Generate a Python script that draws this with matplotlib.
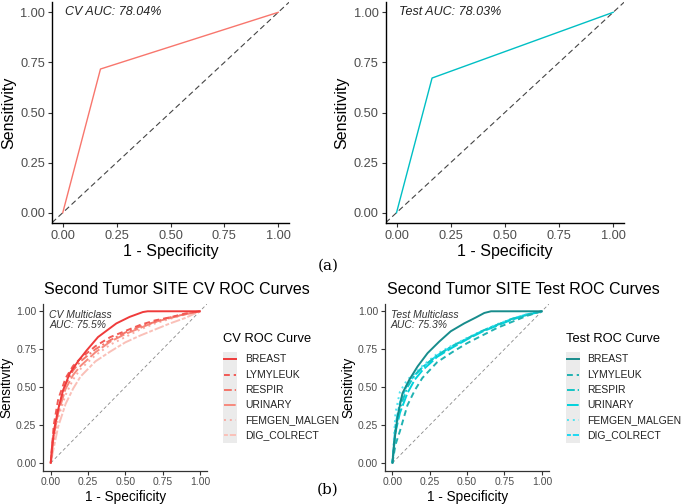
import matplotlib
matplotlib.use("Agg")
import matplotlib.pyplot as plt
from matplotlib.patches import Rectangle

plt.rcParams['font.family'] = ['Liberation Sans', 'DejaVu Sans']

# ---------------- data ----------------
top_cv_fpr = [0.0, 0.175, 1.0]
top_cv_tpr = [0.0, 0.717, 1.0]
top_test_fpr = [0.0, 0.164, 1.0]
top_test_tpr = [0.0, 0.672, 1.0]
cv_auc_text = "CV AUC: 78.04%"
test_auc_text = "Test AUC: 78.03%"

classes = ["BREAST", "LYMYLEUK", "RESPIR", "URINARY", "FEMGEN_MALGEN", "DIG_COLRECT"]

grid_fpr = [0, 0.02, 0.05, 0.1, 0.15, 0.2, 0.3, 0.4, 0.5, 0.6, 0.7, 0.8, 0.9, 1.0]

cv_breast_fpr = [0, 0.01, 0.027, 0.049, 0.083, 0.127, 0.183, 0.239, 0.317, 0.44, 0.529, 0.618, 0.65, 1.0]
cv_breast_tpr = [0, 0.12, 0.24, 0.35, 0.48, 0.59, 0.67, 0.74, 0.83, 0.92, 0.963, 0.995, 1.0, 1.0]
cv_lymyleuk_tpr = [0, 0.25, 0.42, 0.56, 0.64, 0.69, 0.77, 0.83, 0.87, 0.91, 0.94, 0.96, 0.985, 1]
cv_respir_tpr = [0, 0.20, 0.36, 0.52, 0.61, 0.67, 0.75, 0.81, 0.86, 0.90, 0.93, 0.96, 0.98, 1]
cv_urinary_tpr = [0, 0.18, 0.33, 0.49, 0.58, 0.64, 0.73, 0.80, 0.85, 0.89, 0.93, 0.955, 0.98, 1]
cv_femgen_tpr = [0, 0.15, 0.30, 0.45, 0.55, 0.62, 0.71, 0.78, 0.83, 0.88, 0.92, 0.95, 0.98, 1]
cv_dig_tpr = [0, 0.10, 0.24, 0.39, 0.49, 0.57, 0.67, 0.735, 0.795, 0.84, 0.88, 0.92, 0.955, 1]

test_breast_fpr = [0, 0.011, 0.034, 0.067, 0.112, 0.168, 0.235, 0.313, 0.39, 0.48, 0.56, 0.615, 0.66, 1.0]
test_breast_tpr = [0, 0.13, 0.305, 0.46, 0.547, 0.636, 0.724, 0.80, 0.868, 0.92, 0.96, 0.989, 1.0, 1.0]
test_lymyleuk_tpr = [0, 0.12, 0.21, 0.38, 0.48, 0.56, 0.665, 0.73, 0.79, 0.84, 0.89, 0.93, 0.97, 1]
test_respir_tpr = [0, 0.22, 0.36, 0.50, 0.58, 0.63, 0.71, 0.77, 0.82, 0.87, 0.91, 0.95, 0.975, 1]
test_urinary_tpr = [0, 0.20, 0.33, 0.46, 0.55, 0.61, 0.70, 0.76, 0.815, 0.865, 0.905, 0.945, 0.975, 1]
test_femgen_tpr = [0, 0.33, 0.47, 0.55, 0.59, 0.64, 0.72, 0.775, 0.825, 0.87, 0.915, 0.95, 0.98, 1]
test_dig_tpr = [0, 0.25, 0.40, 0.52, 0.58, 0.63, 0.71, 0.77, 0.82, 0.87, 0.91, 0.95, 0.98, 1]

cv_multi_text = "CV Multiclass\nAUC: 75.5%"
test_multi_text = "Test Multiclass\nAUC: 75.3%"

cv_colors = ["#EF3B3B", "#F25A55", "#F4756A", "#F7897C", "#F9ADA5", "#FAC0B8"]
test_colors = ["#178C8C", "#20B2B2", "#14C4C4", "#00D2DC", "#50E4F0", "#1ED8F2"]
linestyles = ["-", (0, (3, 2)), (0, (4, 1.5, 1, 1.5)), (0, (6, 1.5)), (0, (1, 2)), (0, (2, 1, 5, 1))]

W, H = 685, 504
fig = plt.figure(figsize=(W / 100, H / 100), dpi=100)

def px_axes(l, r, t, b):
    return fig.add_axes([l / W, 1 - b / H, (r - l) / W, (b - t) / H])

ticks = [0, 0.25, 0.5, 0.75, 1.0]
ticklabels = ["0.00", "0.25", "0.50", "0.75", "1.00"]

def style(ax, tick_fs, label_fs, lw=1.0, spine_col="black", ypad=3):
    ax.set_xlim(-0.05, 1.05)
    ax.set_ylim(-0.05, 1.05)
    for s in ["top", "right"]:
        ax.spines[s].set_visible(False)
    for s in ["left", "bottom"]:
        ax.spines[s].set_linewidth(lw)
        ax.spines[s].set_color(spine_col)
    ax.set_xticks(ticks)
    ax.set_yticks(ticks)
    ax.set_xticklabels(ticklabels)
    ax.set_yticklabels(ticklabels)
    ax.tick_params(length=3, width=0.8, color="#333333", labelsize=tick_fs,
                   labelcolor="#4D4D4D", pad=2)
    ax.set_xlabel("1 - Specificity", fontsize=label_fs, labelpad=2)
    ax.set_ylabel("Sensitivity", fontsize=label_fs, labelpad=ypad)
    ax.patch.set_alpha(0)

# ---------------- top panels ----------------
for (l, r), fpr, tpr, col, txt in [((52, 289), top_cv_fpr, top_cv_tpr, "#F8766D", cv_auc_text),
                                   ((385.7, 624), top_test_fpr, top_test_tpr, "#00BFC4", test_auc_text)]:
    ax = px_axes(l, r, 2.3, 222.7)
    style(ax, 9.2, 11.5)
    ax.axline((0, 0), slope=1, color="#444444", lw=0.8, ls=(0, (5, 3)))
    ax.plot(fpr, tpr, color=col, lw=1.0)
    ax.text(0.01, 1.0, txt, fontsize=9, style="italic", ha="left", va="center", color="#222222")

# ---------------- bottom panels ----------------
bottom = [
    ((43.3, 207.3), "Second Tumor SITE CV ROC Curves", 177, cv_colors,
     [(cv_breast_fpr, cv_breast_tpr), (grid_fpr, cv_lymyleuk_tpr), (grid_fpr, cv_respir_tpr),
      (grid_fpr, cv_urinary_tpr), (grid_fpr, cv_femgen_tpr), (grid_fpr, cv_dig_tpr)],
     cv_multi_text, "CV ROC Curve", 223, 245),
    ((385, 549.3), "Second Tumor SITE Test ROC Curves", 523, test_colors,
     [(test_breast_fpr, test_breast_tpr), (grid_fpr, test_lymyleuk_tpr), (grid_fpr, test_respir_tpr),
      (grid_fpr, test_urinary_tpr), (grid_fpr, test_femgen_tpr), (grid_fpr, test_dig_tpr)],
     test_multi_text, "Test ROC Curve", 566, 587),
]

ov = fig.add_axes([0, 0, 1, 1])
ov.set_xlim(0, W)
ov.set_ylim(H, 0)
ov.axis("off")
ov.patch.set_alpha(0)

for (l, r), title, tcx, cols, curves, mtxt, ltitle, lx, tx in bottom:
    ax = px_axes(l, r, 303.7, 470.5)
    style(ax, 7.5, 9.8, lw=0.9, spine_col="#333333", ypad=2)
    ax.plot([0, 1.05], [0, 1.05], color="#888888", lw=0.6, ls=(0, (4, 3)))
    for (fpr, tpr), c, lsty in list(zip(curves, cols, linestyles))[::-1]:
        ax.plot(fpr, tpr, color=c, lw=1.4, ls=lsty)
    ax.text(-0.01, 1.01, mtxt, fontsize=7.5, style="italic", ha="left", va="top",
            color="#333333", linespacing=1.0)
    ov.text(tcx, 290, title, fontsize=11.5, ha="center", va="center")
    # legend
    ov.text(lx, 339, ltitle, fontsize=9.3, ha="left", va="center")
    ov.add_patch(Rectangle((lx, 351.5), 14.5, 91.5, color="#EBEBEB", lw=0))
    for i, (name, c, lsty) in enumerate(zip(classes, cols, linestyles)):
        yy = 359.3 + i * 15.2
        ov.plot([lx + 1, lx + 13.5], [yy, yy], color=c, lw=1.4, ls=lsty)
        ov.text(tx, yy, name, fontsize=7.5, ha="left", va="center", color="#222222")

ov.text(328, 266, "(a)", fontsize=11, family="DejaVu Serif", ha="center", va="center")
ov.text(328, 490, "(b)", fontsize=11, family="DejaVu Serif", ha="center", va="center")

fig.savefig("out.png", dpi=100)
